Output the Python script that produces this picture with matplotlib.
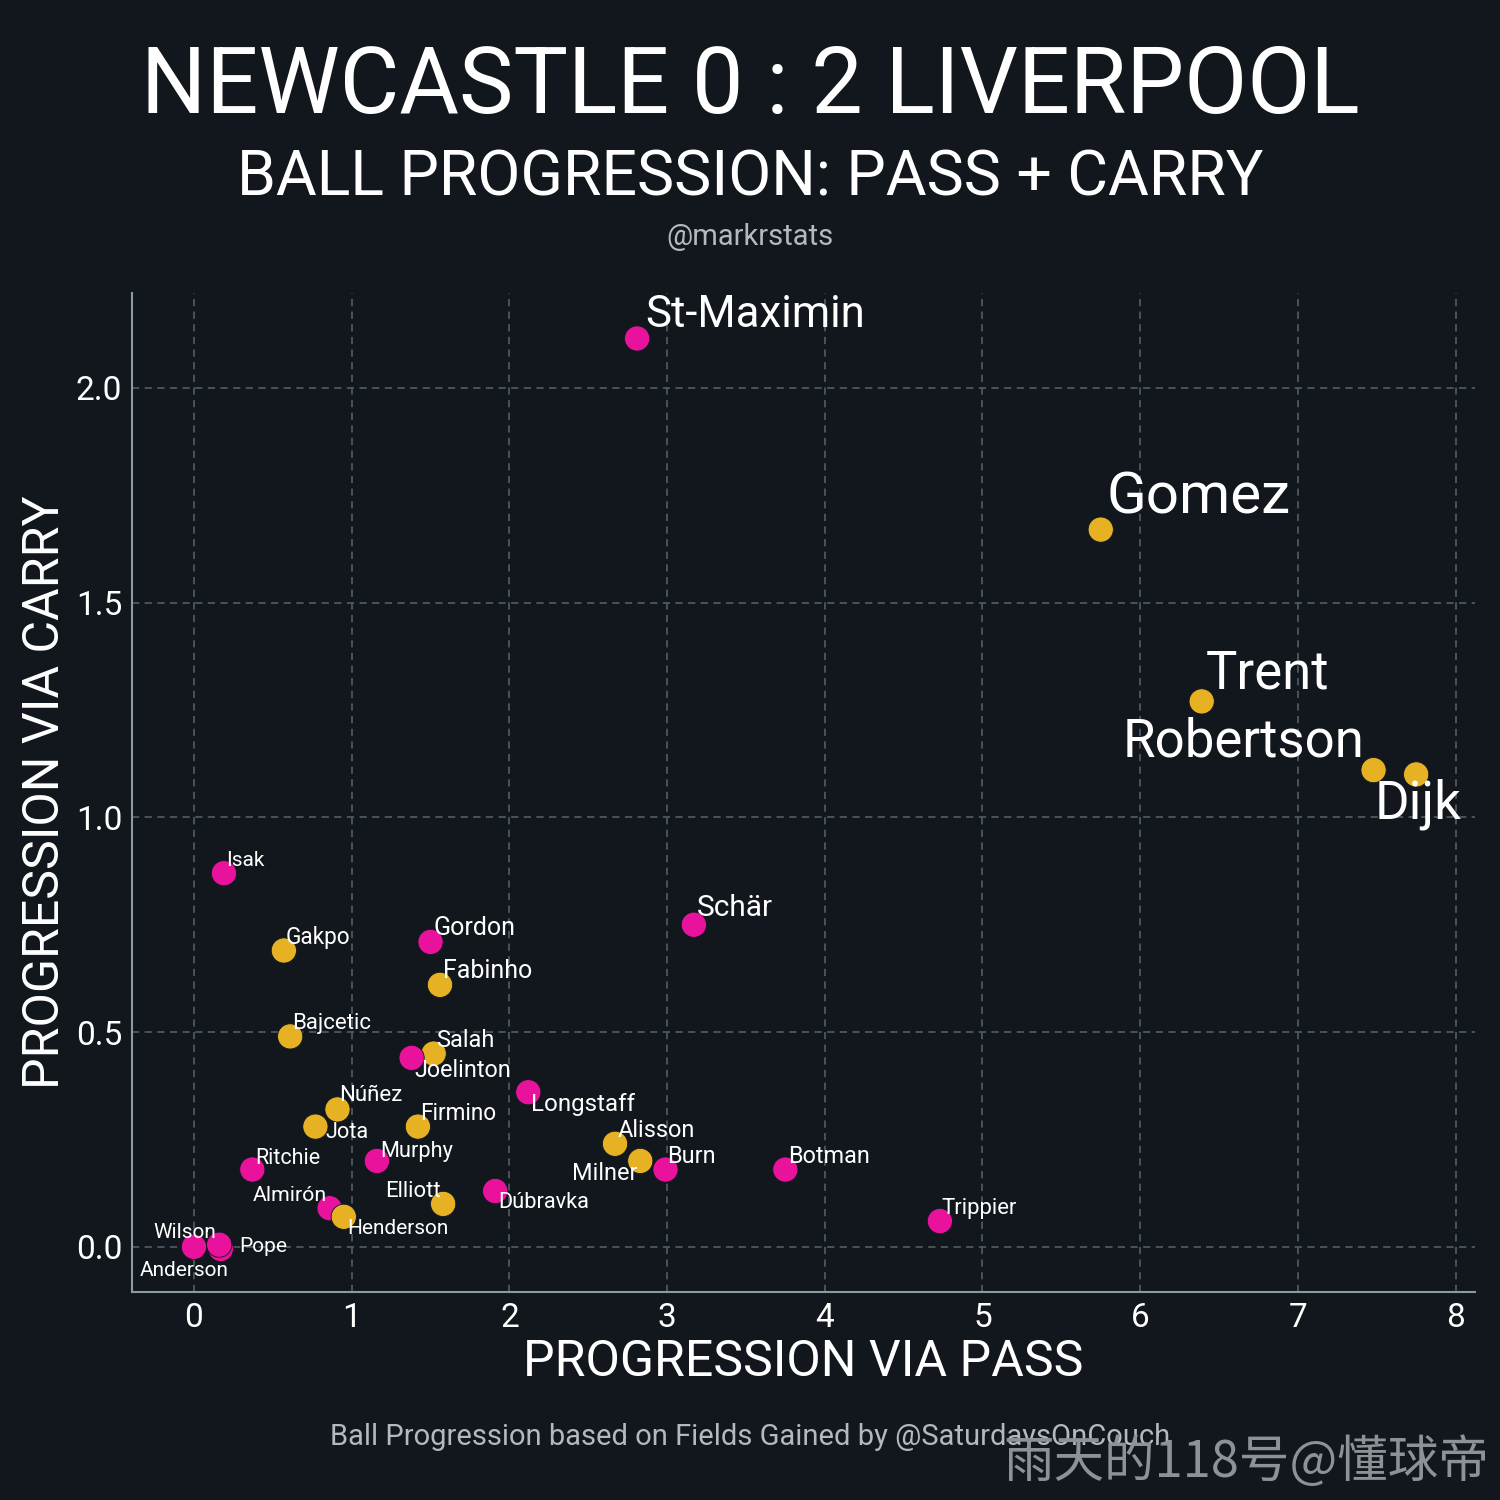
import numpy as np
from matplotlib import pyplot as plt

# progression values per player
players = ["St-Maximin", "Gomez", "Trent", "Robertson", "Dijk", "Isak", "Gakpo", "Gordon",
           "Fabinho", "Schär", "Bajcetic", "Salah", "Joelinton", "Longstaff", "Núñez", "Jota",
           "Firmino", "Murphy", "Ritchie", "Alisson", "Milner", "Burn", "Botman", "Dúbravka",
           "Elliott", "Almirón", "Henderson", "Trippier", "Wilson", "Anderson", "Pope"]
via_pass = [2.81, 5.75, 6.39, 7.48, 7.75, 0.19, 0.57, 1.50,
            1.56, 3.17, 0.61, 1.52, 1.38, 2.12, 0.91, 0.77,
            1.42, 1.16, 0.37, 2.67, 2.83, 2.99, 3.75, 1.91,
            1.58, 0.86, 0.95, 4.73, 0.00, 0.17, 0.16]
via_carry = [2.115, 1.67, 1.27, 1.11, 1.10, 0.87, 0.69, 0.71,
             0.61, 0.75, 0.49, 0.45, 0.44, 0.36, 0.32, 0.28,
             0.28, 0.20, 0.18, 0.24, 0.20, 0.18, 0.18, 0.13,
             0.10, 0.09, 0.07, 0.06, 0.00, -0.005, 0.005]
team = ["NEW", "LIV", "LIV", "LIV", "LIV", "NEW", "LIV", "NEW",
        "LIV", "NEW", "LIV", "LIV", "NEW", "NEW", "LIV", "LIV",
        "LIV", "NEW", "NEW", "LIV", "LIV", "NEW", "NEW", "NEW",
        "LIV", "NEW", "LIV", "NEW", "NEW", "NEW", "NEW"]

BG = "#11171d"
team_colors = {"NEW": "#e8129c", "LIV": "#e6b224"}

# label placement: (dx px, dy px, ha, fontsize)
label_style = {
    "St-Maximin": (8, 11, "left", 31.5), "Gomez": (6, 16, "left", 42),
    "Trent": (4, 13, "left", 38), "Robertson": (-9, 14, "right", 38),
    "Dijk": (2, -44, "center", 38), "Schär": (3, 9, "left", 21.5),
    "Isak": (2, 7, "left", 15), "Gakpo": (2, 7, "left", 16.3),
    "Gordon": (3, 7, "left", 18), "Fabinho": (3, 7, "left", 18),
    "Bajcetic": (2, 7, "left", 16), "Salah": (2, 7, "left", 17),
    "Joelinton": (3, -19, "left", 16.8), "Longstaff": (3, -19, "left", 17.4),
    "Núñez": (2, 8, "left", 16), "Jota": (10, -11, "left", 15.7),
    "Firmino": (2, 7, "left", 16.3), "Murphy": (3, 4, "left", 15.7),
    "Ritchie": (3, 6, "left", 15.5), "Alisson": (3, 7, "left", 17),
    "Milner": (-3, -19, "right", 16.9), "Burn": (2, 7, "left", 16.8),
    "Botman": (3, 7, "left", 16.8), "Dúbravka": (3, -17, "left", 15.7),
    "Elliott": (-2, 7, "right", 15.9), "Almirón": (-3, 7, "right", 15.4),
    "Henderson": (3, -17, "left", 15), "Trippier": (2, 7, "left", 15.9),
    "Wilson": (22, 9, "right", 15), "Anderson": (8, -27, "right", 15),
    "Pope": (20, -7, "left", 15),
}

plt.rcParams['font.family'] = ['Roboto', 'DejaVu Sans']

fig = plt.figure(figsize=(15, 15), dpi=100, facecolor=BG)
ax = fig.add_axes([0.088, 0.1387, 0.895, 0.666], facecolor=BG)

colors = [team_colors[t] for t in team]
ax.scatter(via_pass, via_carry, s=330, c=colors, edgecolors=BG, linewidths=0.6, zorder=3)

px = 72 / 100
for name, x, y in zip(players, via_pass, via_carry):
    dx, dy, ha, fs = label_style[name]
    ax.annotate(name, (x, y), xytext=(dx * px, dy * px), textcoords="offset points",
                ha=ha, va="baseline", color="white", fontsize=fs, zorder=4)

ax.set_xlim(-0.393, 8.12)
ax.set_ylim(-0.105, 2.221)
ax.set_xticks(range(0, 9))
ax.set_yticks([0.0, 0.5, 1.0, 1.5, 2.0])
ax.set_yticklabels(["0.0", "0.5", "1.0", "1.5", "2.0"])
ax.grid(True, color="#4b5961", linestyle=(0, (4, 3)), linewidth=1.3, zorder=0)
ax.tick_params(colors="white", labelsize=24, length=0, pad=7)
for side in ["top", "right"]:
    ax.spines[side].set_visible(False)
for side in ["left", "bottom"]:
    ax.spines[side].set_color("#8c9ba2")
    ax.spines[side].set_linewidth(1.5)

ax.set_xlabel("PROGRESSION VIA PASS", color="white", fontsize=36, labelpad=3)
ax.set_ylabel("PROGRESSION VIA CARRY", color="white", fontsize=36, labelpad=5)

fig.text(0.5, 0.942, "NEWCASTLE 0 : 2 LIVERPOOL", color="white", fontsize=66,
         ha="center", va="center")
fig.text(0.5, 0.881, "BALL PROGRESSION: PASS + CARRY", color="white", fontsize=45,
         ha="center", va="center")
fig.text(0.5, 0.842, "@markrstats", color="#b4b9be", fontsize=21, ha="center", va="center")
fig.text(0.5, 0.042, "Ball Progression based on Fields Gained by @SaturdaysOnCouch",
         color="#b4b9be", fontsize=21, ha="center", va="center")
# watermark from the source image, sits over the footer there too
fig.text(0.831, 0.025, "雨天的118号@懂球帝", color="#8d9296", fontsize=36.4,
         ha="center", va="center", family=["Noto Sans CJK SC", "DejaVu Sans"])

plt.savefig("out.png", dpi=100, facecolor=BG)
